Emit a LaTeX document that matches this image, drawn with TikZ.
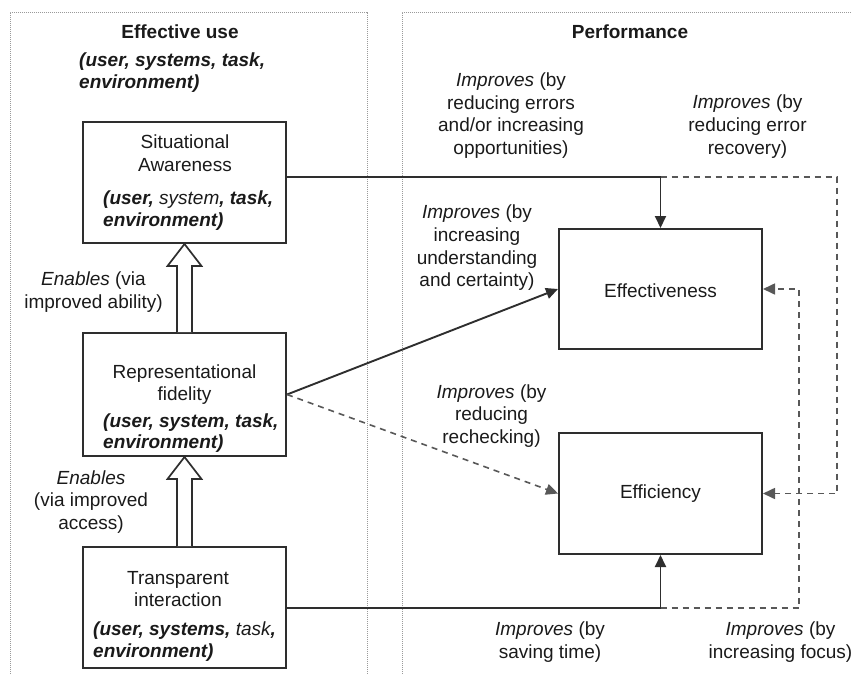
\documentclass[tikz,border=0pt]{standalone}
\usepackage{fontspec}
\setmainfont{Liberation Sans}
\usetikzlibrary{arrows.meta,calc}

\definecolor{ink}{HTML}{1A1A1A}
\definecolor{edge}{HTML}{2E2E2E}
\definecolor{frame}{HTML}{9A9A9A}

\tikzset{
  txt/.style={inner sep=0pt, text=ink, font=\fontsize{19}{22.7}\selectfont, align=center},
  ctx/.style={txt, align=left, font=\fontsize{19}{21.5}\selectfont\bfseries\itshape},
  head/.style={txt, font=\fontsize{19}{22.7}\selectfont\bfseries},
  box/.style={draw=edge, line width=2pt, minimum width=203pt, inner sep=0pt},
  solidlink/.style={draw=edge, line width=1.9pt, -{Triangle[length=12pt,width=11pt]}},
  dashlink/.style={draw=edge!80, line width=1.6pt, dash pattern=on 6pt off 5pt, -{Triangle[length=12pt,width=11pt]}},
  hollow/.style={draw=edge, line width=1.7pt, fill=white, line join=miter},
  zone/.style={draw=frame, line width=0.9pt, dash pattern=on 1.2pt off 0.8pt}
}

% hollow "enables" arrow from the top of #1 up to the bottom of #2
\newcommand\enablesarrow[2]{%
  \draw[hollow] ($(#1.north)+(-7.5,0)$) -- ($(#2.south)+(-7.5,22)$) -- ++(-9.5,0)
    -- (#2.south) -- ++(17,22) -- ++(-9.5,0) -- ($(#1.north)+(7.5,0)$);}

\begin{document}
\begin{tikzpicture}[x=1pt,y=-1pt]
\useasboundingbox (0,0) rectangle (852,673);

% the two zones
\draw[zone] (10,690) -- (10,12) -- (367,12) -- (367,690);
\draw[zone] (402,690) -- (402,12) -- (870,12);

\node[head] (hUse) at (180,32) {Effective use};
\node[ctx, anchor=west] (cUse) at (79,72.5) {(user, systems, task,\\environment)};
\node[head] (hPerf) at (630,32) {Performance};

% left column boxes
\node[box, minimum height=121pt] (SA) at (184.5,182.5) {};
\node[box, minimum height=123pt] (RF) at (184.5,394.5) {};
\node[box, minimum height=121pt] (TI) at (184.5,607.5) {};

\node[txt] (tSA) at (185,153.5) {Situational\\Awareness};
\node[ctx, anchor=west] (cSA) at (103,210.5) {(user, \textmd{system}, task,\\environment)};
\node[txt] (tRF) at (184.5,384.5) {Representational\\fidelity};
\node[ctx, anchor=west] (cRF) at (103,433) {(user, system, task,\\environment)};
\node[txt] (tTI) at (178,589) {Transparent\\interaction};
\node[ctx, anchor=west] (cTI) at (93,641.5) {(user, systems, \textmd{task},\\environment)};

% right column boxes
\node[box, minimum height=120pt] (EFF) at (660.5,289) {};
\node[box, minimum height=121pt] (EFC) at (660.5,493.5) {};
\node[txt] (tEFF) at (660.5,291) {Effectiveness};
\node[txt] (tEFC) at (660.5,494) {Efficiency};

% enabling arrows
\enablesarrow{TI}{RF}
\enablesarrow{RF}{SA}
\node[txt] (lEn1) at (93.5,292) {\textit{Enables} (via\\improved ability)};
\node[txt] (lEn2) at (91,502) {\textit{Enables}\\(via improved\\access)};

% junction and corner points
\coordinate (jTop) at (660.5,177);
\coordinate (jBot) at (660.5,608);
\coordinate (cTopR) at (837,177);
\coordinate (cBotR) at (799,608);

% solid influences
\draw[solidlink] (SA.east |- jTop) -- (jTop) -- (EFF.north);
\draw[solidlink] (TI.east |- jBot) -- (jBot) -- (EFC.south);
\draw[solidlink] (RF.east) -- (EFF.west);

% dashed influences
\draw[dashlink] (RF.east) -- (EFC.west);
\draw[dashlink] (jTop) -- (cTopR) -- (cTopR |- EFC.east) -- (EFC.east);
\draw[dashlink] (jBot) -- (cBotR) -- (cBotR |- EFF.east) -- (EFF.east);

% influence labels
\node[txt] (l1) at (511,115.5) {\textit{Improves} (by\\reducing errors\\and/or increasing\\opportunities)};
\node[txt] (l2) at (747.5,126.5) {\textit{Improves} (by\\reducing error\\recovery)};
\node[txt] (l3) at (477,248) {\textit{Improves} (by\\increasing\\understanding\\and certainty)};
\node[txt] (l4) at (491.5,416) {\textit{Improves} (by\\reducing\\rechecking)};
\node[txt] (l5) at (550,642) {\textit{Improves} (by\\saving time)};
\node[txt] (l6) at (780.5,642) {\textit{Improves} (by\\increasing focus)};
\end{tikzpicture}
\end{document}
